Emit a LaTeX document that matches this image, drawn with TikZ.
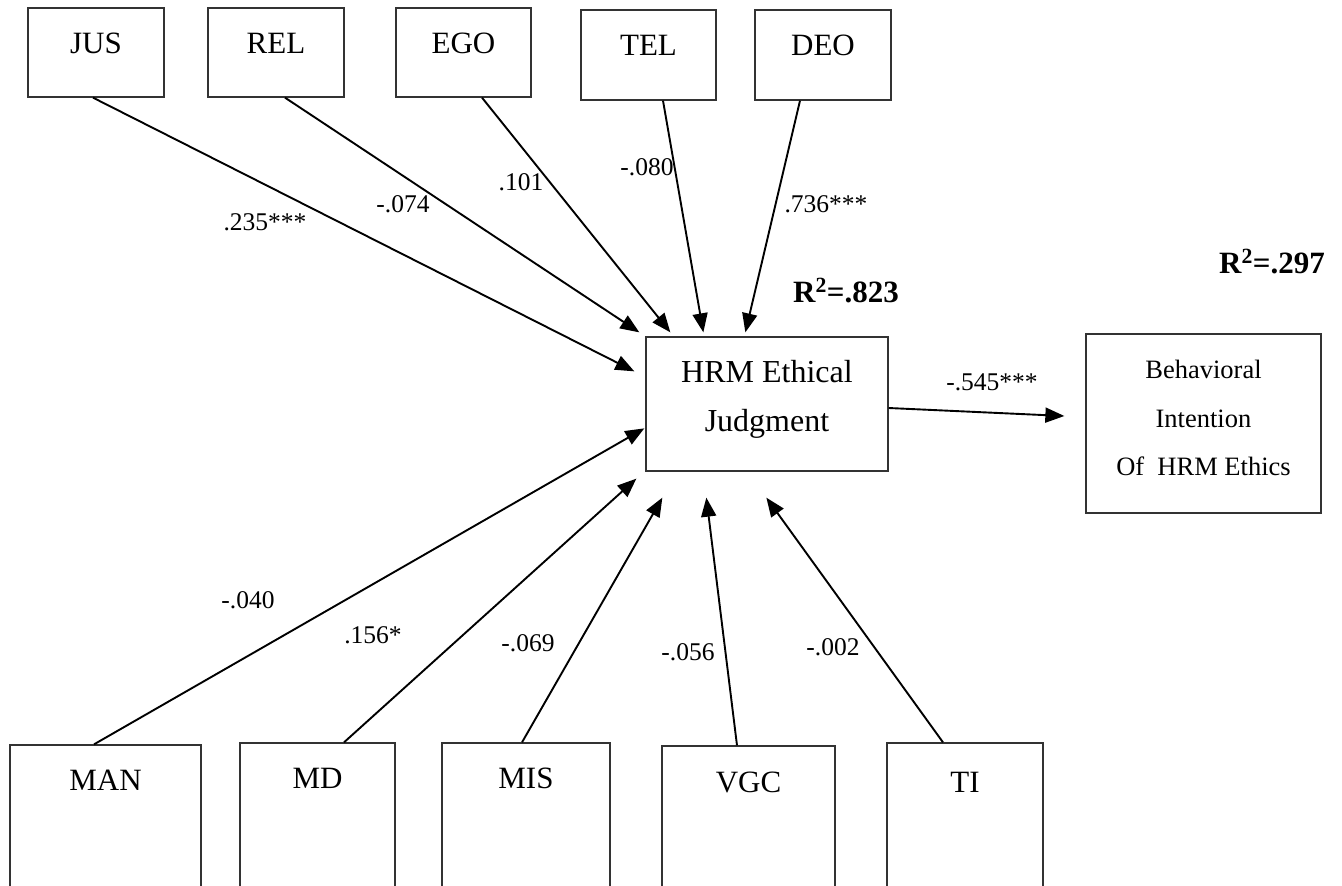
\documentclass[tikz,border=0pt]{standalone}
\usepackage{fontspec}
\setmainfont{Liberation Serif}
\usetikzlibrary{arrows.meta,calc}
\begin{document}
\begin{tikzpicture}[x=1pt,y=-1pt,
  box/.style={draw=black!80, line width=1.3pt, rectangle, inner sep=0pt},
  lbl/.style={anchor=base, inner sep=0pt, font=\fontsize{31}{37}\selectfont},
  hrmlbl/.style={anchor=base, inner sep=0pt, font=\fontsize{32}{38}\selectfont},
  bilbl/.style={anchor=base, inner sep=0pt, font=\fontsize{26.5}{32}\selectfont},
  coef/.style={anchor=base, inner sep=0pt, font=\fontsize{25.5}{30}\selectfont},
  rsq/.style={anchor=base, inner sep=0pt, font=\fontsize{31}{37}\selectfont\bfseries},
  link/.style={line width=1.9pt, -{Triangle[length=19pt,width=15pt]}}
]
\useasboundingbox (0,0) rectangle (1342,886);
\clip (0,0) rectangle (1342,886);

% ---- top row of antecedents ----
\node[box, minimum width=136pt, minimum height=89pt] (jus) at (96,52.5) {};
\node[box, minimum width=136pt, minimum height=89pt] (rel) at (276,52.5) {};
\node[box, minimum width=135pt, minimum height=89pt] (ego) at (463.5,52.5) {};
\node[box, minimum width=135pt, minimum height=90pt] (tel) at (648.5,55) {};
\node[box, minimum width=136pt, minimum height=90pt] (deo) at (823,55) {};
\node[lbl] (jus-t) at (96,53) {JUS};
\node[lbl] (rel-t) at (276,53) {REL};
\node[lbl] (ego-t) at (463.5,53) {EGO};
\node[lbl] (tel-t) at (648.5,55) {TEL};
\node[lbl] (deo-t) at (823,55) {DEO};

% ---- central construct and outcome ----
\node[box, minimum width=242pt, minimum height=134pt] (hrm) at (767,404) {};
\node[hrmlbl] (hrm-t1) at (767,382) {HRM Ethical};
\node[hrmlbl] (hrm-t2) at (767,431) {Judgment};

\node[box, minimum width=235pt, minimum height=179pt] (bi) at (1203.5,423.5) {};
\node[bilbl] (bi-t1) at (1203.5,378) {Behavioral};
\node[bilbl] (bi-t2) at (1203.5,427) {Intention};
\node[bilbl] (bi-t3) at (1203.5,475) {Of~ HRM Ethics};

% ---- bottom row of antecedents (running past the lower edge) ----
\node[box, minimum width=191pt, minimum height=160pt] (man) at (105.5,825) {};
\node[box, minimum width=155pt, minimum height=160pt] (md) at (317.5,823) {};
\node[box, minimum width=168pt, minimum height=160pt] (mis) at (526,823) {};
\node[box, minimum width=173pt, minimum height=160pt] (vgc) at (748.5,826) {};
\node[box, minimum width=156pt, minimum height=160pt] (ti) at (965,823) {};
\node[lbl] (man-t) at (105.5,790) {MAN};
\node[lbl] (md-t) at (317.5,788) {MD};
\node[lbl] (mis-t) at (526,788) {MIS};
\node[lbl] (vgc-t) at (748.5,792) {VGC};
\node[lbl] (ti-t) at (965,792) {TI};

% ---- paths into the judgment construct ----
\draw[link] ($(jus.south)+(-3,0)$) -- ($(hrm.north west)+(-11,35)$);
\draw[link] ($(rel.south)+(9,0)$) -- ($(hrm.north west)+(-6,-4)$);
\draw[link] ($(ego.south)+(18.5,0)$) -- ($(hrm.north west)+(25,-4)$);
\draw[link] ($(tel.south)+(14.5,0)$) -- ($(hrm.north west)+(58,-4)$);
\draw[link] ($(deo.south)+(-23,0)$) -- ($(hrm.north west)+(100,-4)$);

\draw[link] ($(man.north)+(-11.5,0)$) -- ($(hrm.north west)+(-1,92)$);
\draw[link] ($(md.north)+(26.5,0)$) -- ($(hrm.south west)+(-9,7)$);
\draw[link] ($(mis.north)+(-4,0)$) -- ($(hrm.south west)+(17,26)$);
\draw[link] ($(vgc.north)+(-11.5,0)$) -- ($(hrm.south west)+(61,26)$);
\draw[link] ($(ti.north)+(-22,0)$) -- ($(hrm.south west)+(121,26)$);

\draw[link] ($(hrm.east)+(0,4)$) -- ($(bi.west)+(-21,-7.5)$);

% ---- path coefficients ----
\node[coef] (c-jus) at (265,230) {.235***};
\node[coef] (c-rel) at (403,212) {-.074};
\node[coef] (c-ego) at (521,190) {.101};
\node[coef] (c-tel) at (647,175) {-.080};
\node[coef] (c-deo) at (826,212) {.736***};
\node[coef] (c-man) at (248,608) {-.040};
\node[coef] (c-md) at (373,643) {.156*};
\node[coef] (c-mis) at (528,651) {-.069};
\node[coef] (c-vgc) at (688,660) {-.056};
\node[coef] (c-ti) at (833,655) {-.002};
\node[coef] (c-bi) at (992,390) {-.545***};

% ---- explained variance ----
\node[rsq] (r-hrm) at (846,302) {R\textsuperscript{2}=.823};
\node[rsq] (r-bi) at (1272,273) {R\textsuperscript{2}=.297};
\end{tikzpicture}
\end{document}
